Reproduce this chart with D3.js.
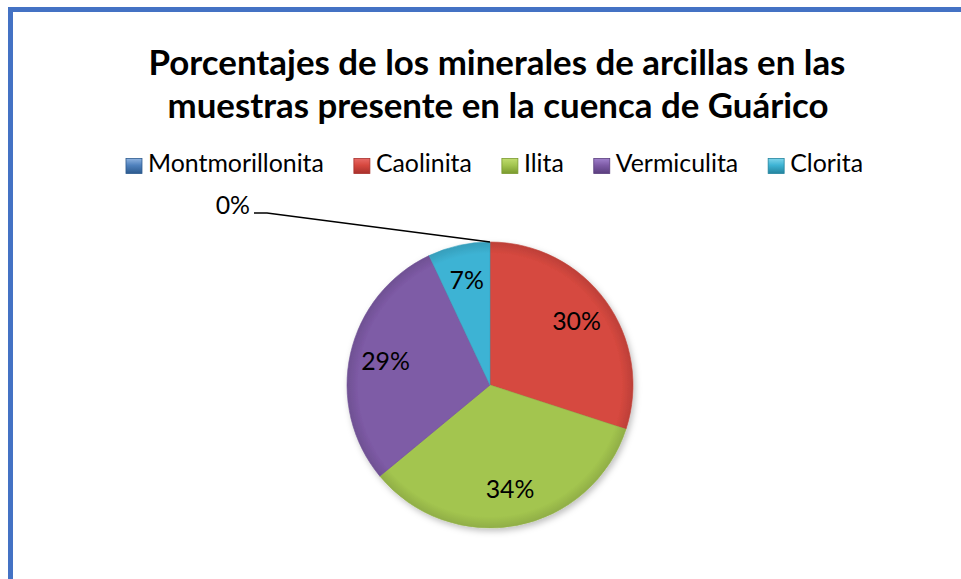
<!DOCTYPE html>
<html><head><meta charset="utf-8">
<script src="https://cdn.jsdelivr.net/npm/d3@7/dist/d3.min.js"></script>
<style>html,body{margin:0;padding:0;background:#fff;}svg{display:block;}</style>
</head><body>
<script>
const titleLines = ["Porcentajes de los minerales de arcillas en las", "muestras presente en la cuenca de Guárico"];
const categories = ["Montmorillonita", "Caolinita", "Ilita", "Vermiculita", "Clorita"];
const values = [0, 30, 34, 29, 7];
const labels = ["0%", "30%", "34%", "29%", "7%"];
const colors = ["#4F81BD", "#D6483F", "#A3C54F", "#7E5BA6", "#3DB3D4"];
const darkColors = ["#2C5A8E", "#A8302C", "#7A9A2E", "#5A3E7E", "#24849E"];
const lightColors = ["#8FB3E0", "#E86A66", "#C0DC6E", "#A080CC", "#7DD4EA"];

const W = 961, H = 579;
const svg = d3.select("body").append("svg").attr("width", W).attr("height", H);
const font = "Lato, 'Open Sans', sans-serif";
const defs = svg.append("defs");

svg.append("rect").attr("x", 0).attr("y", 0).attr("width", W).attr("height", H).attr("fill", "#fff");
svg.append("rect").attr("x", 10.5).attr("y", 9.5).attr("width", 1200).attr("height", 1200)
  .attr("fill", "none").attr("stroke", "#4472C4").attr("stroke-width", 5);

function fitText(sel, target) {
  const w = sel.node().getComputedTextLength();
  const fs = parseFloat(sel.attr("font-size"));
  sel.attr("font-size", fs * target / w);
  return fs * target / w;
}

// Title
const t1 = svg.append("text").attr("x", 497).attr("y", 75).attr("text-anchor", "middle")
  .attr("font-family", font).attr("font-weight", "bold").attr("font-size", 30).attr("fill", "#000").text(titleLines[0]);
const tfs = fitText(t1, 697);
svg.append("text").attr("x", 498).attr("y", 118).attr("text-anchor", "middle")
  .attr("font-family", font).attr("font-weight", "bold").attr("font-size", tfs).attr("fill", "#000").text(titleLines[1]);

// Legend
const lg = svg.append("g");
const probe = lg.append("text").attr("font-family", font).attr("font-size", 22).text(categories[0]);
const lfs = fitText(probe, 176);
probe.remove();
const items = lg.selectAll("g.item").data(categories).join("g").attr("class", "item");
items.append("text").attr("font-family", font).attr("font-size", lfs).attr("fill", "#000")
  .attr("y", 172).attr("x", 22).text(d => d);
categories.forEach((c, i) => {
  const g = defs.append("linearGradient").attr("id", "lg" + i).attr("x1", 0).attr("y1", 0).attr("x2", 0).attr("y2", 1);
  g.append("stop").attr("offset", "0%").attr("stop-color", lightColors[i]);
  g.append("stop").attr("offset", "45%").attr("stop-color", colors[i]);
  g.append("stop").attr("offset", "100%").attr("stop-color", darkColors[i]);
});
items.append("rect").attr("x", 0).attr("y", 158.5).attr("width", 16).attr("height", 15)
  .attr("fill", (d, i) => `url(#lg${i})`).attr("stroke", (d, i) => darkColors[i]).attr("stroke-width", 0.8);
let widths = [];
items.each(function () { widths.push(22 + d3.select(this).select("text").node().getComputedTextLength()); });
const gap = 30;
const total = d3.sum(widths) + gap * (widths.length - 1);
let xpos = 494.5 - total / 2;
items.attr("transform", (d, i) => { const x = xpos; xpos += widths[i] + gap; return `translate(${x},0)`; });

// Pie
const cx = 490, cy = 385, R = 143;
const pie = d3.pie().sort(null).value(d => d)(values);
const arc = d3.arc().innerRadius(0).outerRadius(R);
const labelArc = d3.arc().innerRadius(107).outerRadius(107);

const filter = defs.append("filter").attr("id", "shadow").attr("x", "-20%").attr("y", "-20%").attr("width", "140%").attr("height", "140%");
filter.append("feDropShadow").attr("dx", 2).attr("dy", 3).attr("stdDeviation", 3).attr("flood-color", "#000").attr("flood-opacity", 0.25);

values.forEach((v, i) => {
  const g = defs.append("radialGradient").attr("id", "rg" + i).attr("gradientUnits", "userSpaceOnUse")
    .attr("cx", 0).attr("cy", 0).attr("r", R);
  g.append("stop").attr("offset", "0%").attr("stop-color", colors[i]);
  g.append("stop").attr("offset", "92%").attr("stop-color", colors[i]);
  g.append("stop").attr("offset", "100%").attr("stop-color", d3.color(colors[i]).darker(0.35));
});

const pg = svg.append("g").attr("transform", `translate(${cx},${cy})`);
pg.append("g").attr("filter", "url(#shadow)").selectAll("path").data(pie).join("path")
  .attr("d", arc).attr("fill", (d, i) => `url(#rg${i})`)
  .attr("stroke", (d, i) => d3.color(colors[i]).darker(0.3)).attr("stroke-width", 0.6);

// labels inside
pg.selectAll("text.lbl").data(pie.filter(d => d.value > 0)).join("text").attr("class", "lbl")
  .attr("transform", d => { const c = labelArc.centroid(d); return `translate(${c[0]},${c[1] + 8})`; })
  .attr("text-anchor", "middle").attr("font-family", font).attr("font-size", lfs).attr("fill", "#000")
  .text(d => labels[d.index]);

// 0% leader label
const zero = pie[0];
const p0 = [cx + Math.sin(zero.startAngle) * R, cy - Math.cos(zero.startAngle) * R];
svg.append("polyline").attr("points", `${p0[0]},${p0[1]} 267,213 254,213`)
  .attr("fill", "none").attr("stroke", "#000").attr("stroke-width", 1.5);
svg.append("text").attr("x", 250).attr("y", 214).attr("text-anchor", "end")
  .attr("font-family", font).attr("font-size", lfs).attr("fill", "#000").text(labels[0]);
</script>
</body></html>
